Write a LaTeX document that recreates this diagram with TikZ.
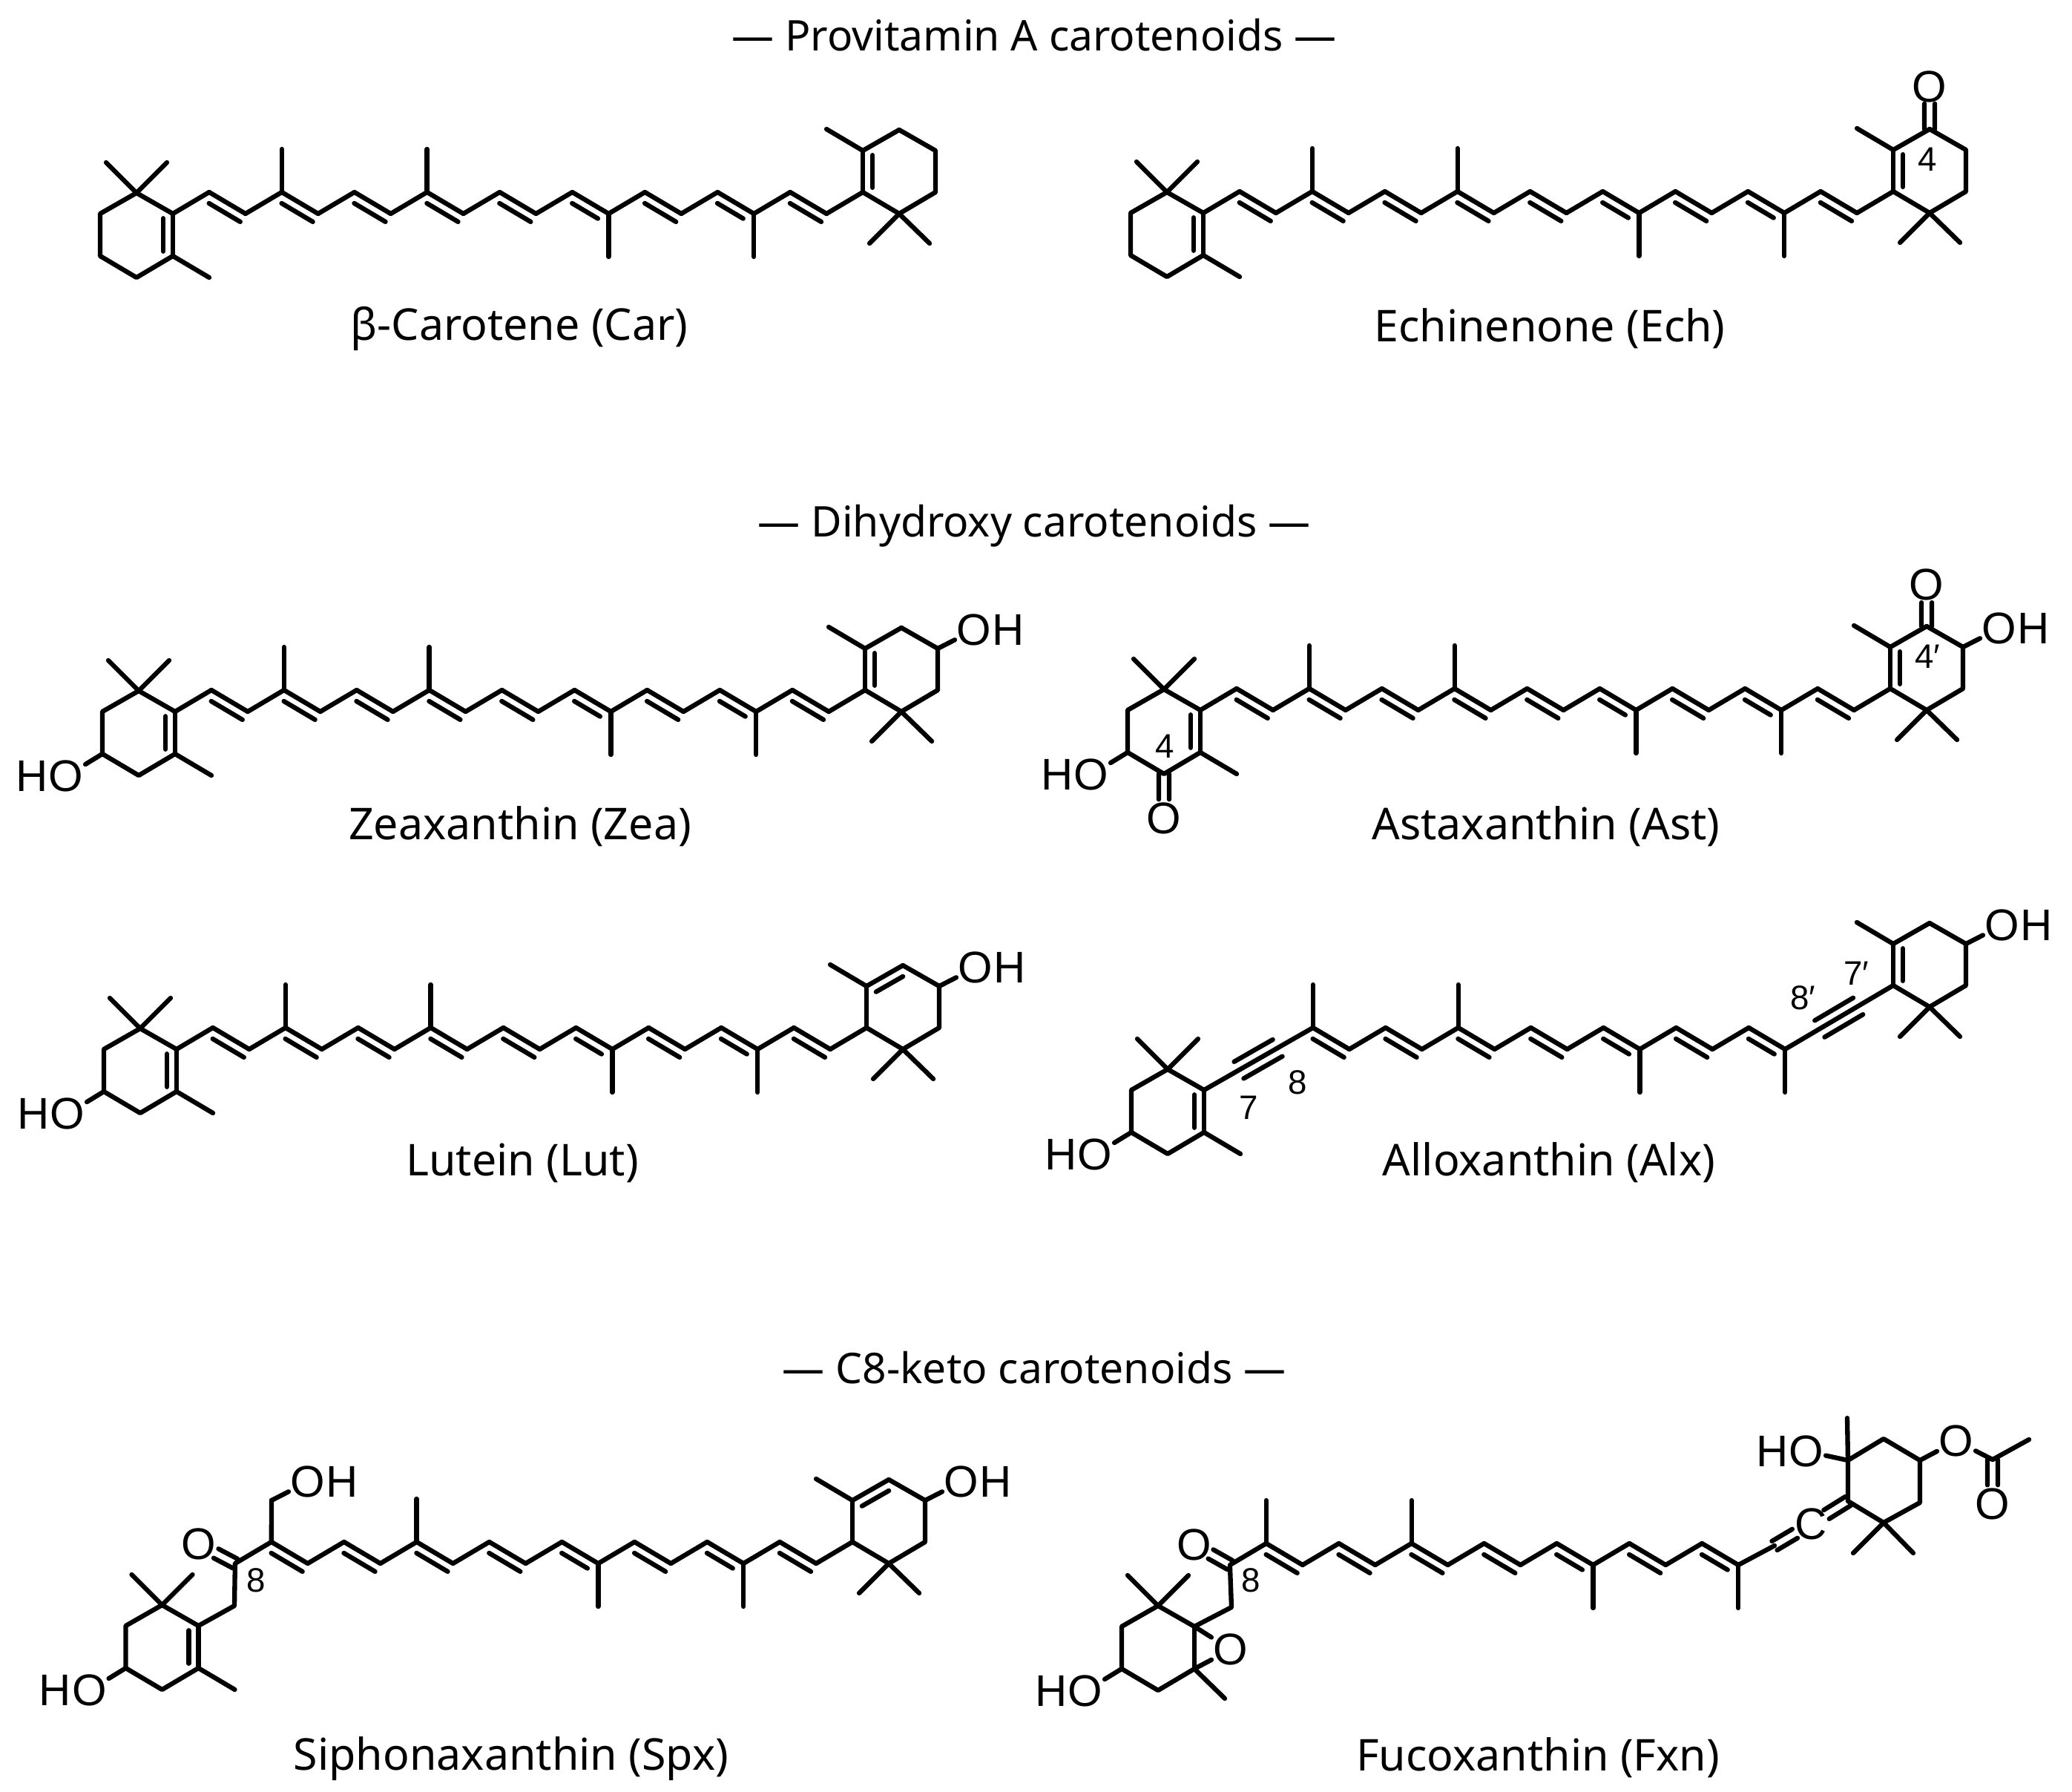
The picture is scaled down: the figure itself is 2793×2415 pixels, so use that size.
\documentclass[tikz,border=0pt]{standalone}
\usepackage{fontspec}
\setmainfont{Noto Sans}
\newfontfamily\atomfont{Liberation Sans}
\usetikzlibrary{calc,positioning}
\tikzset{
  % every bond of the skeletons
  bond/.style={line width=1.8pt,line cap=round,line join=round},
  atom/.style={font=\atomfont\fontsize{17}{18}\selectfont,inner sep=0.6pt},
  num/.style={font=\atomfont\fontsize{13}{14}\selectfont,inner sep=0pt},
  capt/.style={font=\fontsize{16.8}{20}\selectfont,inner sep=0pt},
  head/.style={font=\fontsize{16.2}{20}\selectfont,inner sep=0pt},
}
% double bond: a, b, and how far the inner line stays off each end
\newcommand{\dbl}[4]{
  \draw[bond] (#1)--(#2);
  \draw[bond] ($(#1)!#3!(#2)!.13cm!-90:(#2)$)--($(#2)!#4!(#1)!.13cm!90:(#1)$);
}
% double bond to a labelled atom
\newcommand{\dbs}[3]{
  \draw[bond] ($(#1)!.07cm!90:(#2)$)--($(#1)!#3!(#2)!.07cm!90:(#2)$);
  \draw[bond] ($(#1)!.07cm!-90:(#2)$)--($(#1)!#3!(#2)!.07cm!-90:(#2)$);
}
% triple bond
\newcommand{\tpl}[2]{
  \draw[bond] (#1)--(#2);
  \draw[bond] ($(#1)!.32!(#2)!.13cm!90:(#2)$)--($(#1)!.675!(#2)!.13cm!90:(#2)$);
  \draw[bond] ($(#1)!.32!(#2)!.13cm!-90:(#2)$)--($(#1)!.675!(#2)!.13cm!-90:(#2)$);
}
% chain c0...c19 from the origin #1, #2 lists the first carbons of its double bonds
\newcommand{\polyene}[2]{
  \foreach \k in {0,...,19}{
    \pgfmathsetmacro{\cy}{isodd(\k)?-29:0}
    \coordinate (c\k) at ($(#1)+(48.95*\k,\cy)$);
  }
  \foreach \ka in {#2}{
    \pgfmathtruncatemacro{\kb}{\ka+1}
    \pgfmathtruncatemacro{\kc}{\ka+2}
    \pgfmathsetmacro{\ke}{(\ka==11||\ka==15)?.16:.01}
    \dbl{c\ka}{c\kb}{.13}{\ke}
    \draw[bond] (c\kb)--(c\kc);
  }
}
\newcommand{\methyls}{
  \draw[bond] (c7)--++(0,-58);
  \draw[bond] (c12)--++(0,58);
  \draw[bond] (c16)--++(0,58);
}
% ring on the left end, lz is where the chain leaves it
\newcommand{\leftring}[1]{
  \begin{scope}[shift={(#1)}]
    \coordinate (lz) at (0,0);
    \coordinate (la) at (-49,-28);
    \coordinate (lb) at (-98,0);
    \coordinate (lc) at (-98,57);
    \coordinate (ld) at (-49,86);
    \coordinate (le) at (0,57);
    \draw[bond] (lz)--(la)--(lb)--(lc)--(ld)--(le);
    \draw[bond] (la)--(-90,-69);
    \draw[bond] (la)--(-8,-69);
  \end{scope}
}
% ring on the right end, rz is where the chain enters it
\newcommand{\rightring}[1]{
  \begin{scope}[shift={(#1)}]
    \coordinate (rz) at (0,0);
    \coordinate (ra) at (0,-56);
    \coordinate (rb) at (49,-84);
    \coordinate (rc) at (98,-56);
    \coordinate (rd) at (98,0);
    \coordinate (re) at (49,29);
    \draw[bond] (rb)--(rc)--(rd)--(re)--(rz);
    \draw[bond] (re)--(9,69);
    \draw[bond] (re)--(90,69);
    \draw[bond] (ra)--(-49,-85);
  \end{scope}
}
\newcommand{\hydroxyL}[2]{
  \node[atom] (#2o) at ($(#1)+(-49,30)$) {O};
  \node[atom,left=-1.2pt of #2o] (#2h) {H};
  \draw[bond] (#1)--(#2o);
}
\newcommand{\hydroxyR}[2]{
  \node[atom] (#2o) at ($(#1)+(49,-25)$) {O};
  \node[atom,right=-1.2pt of #2o] (#2h) {H};
  \draw[bond] (#1)--(#2o);
}
\begin{document}
\begin{tikzpicture}[x=0.01cm,y=-0.01cm]
\useasboundingbox (0,0) rectangle (2793,2415);

\node[head] (titleA) at (1394,47) {— Provitamin A carotenoids —};
\node[head] (titleB) at (1394,709) {— Dihydroxy carotenoids —};
\node[head] (titleC) at (1394,1843) {— C8-keto carotenoids —};

% Car
\polyene{233,288}{1,3,...,17}
\methyls
\draw[bond] (c3)--++(0,-58);
\draw[bond] (c0)--(c1);
\leftring{c0}
\dbl{lz}{le}{.11}{.11}
\draw[bond] (le)--++(49,29);
\rightring{c19}
\dbl{rz}{ra}{.11}{.11}
\draw[bond] (ra)--(rb);
\node[capt] (car) at (700,443) {β-Carotene (Car)};

% Ech
\polyene{1622,287}{1,3,...,17}
\methyls
\draw[bond] (c3)--++(0,-58);
\draw[bond] (c0)--(c1);
\leftring{c0}
\dbl{lz}{le}{.11}{.11}
\draw[bond] (le)--++(49,29);
\rightring{c19}
\dbl{rz}{ra}{.11}{.11}
\draw[bond] (ra)--(rb);
\node[atom] (echo) at ($(rb)+(0,-57)$) {O};
\dbs{rb}{echo}{.6}
\node[num] (echn) at (2598,215) {4};
\node[capt] (ech) at (2089,443) {Echinenone (Ech)};

% Zea
\polyene{236,959}{1,3,...,17}
\methyls
\draw[bond] (c3)--++(0,-58);
\draw[bond] (c0)--(c1);
\leftring{c0}
\dbl{lz}{le}{.11}{.11}
\draw[bond] (le)--++(49,29);
\hydroxyL{lc}{zeal}
\rightring{c19}
\dbl{rz}{ra}{.11}{.11}
\draw[bond] (ra)--(rb);
\hydroxyR{rc}{zear}
\node[capt] (zea) at (701,1114) {Zeaxanthin (Zea)};

% Ast
\polyene{1618,957}{1,3,...,17}
\methyls
\draw[bond] (c3)--++(0,-58);
\draw[bond] (c0)--(c1);
\leftring{c0}
\dbl{lz}{le}{.11}{.11}
\draw[bond] (le)--++(49,29);
\hydroxyL{lc}{astl}
\node[atom] (astol) at ($(ld)+(0,60)$) {O};
\dbs{ld}{astol}{.57}
\node[num] (astn) at (1570,1006) {4};
\rightring{c19}
\dbl{rz}{ra}{.11}{.11}
\draw[bond] (ra)--(rb);
\hydroxyR{rc}{astr}
\node[atom] (astor) at ($(rb)+(0,-56)$) {O};
\dbs{rb}{astor}{.57}
\node[num] (astnp) at (2598,885) {4′};
\node[capt] (ast) at (2084,1114) {Astaxanthin (Ast)};

% Lut
\polyene{238,1414}{1,3,...,17}
\methyls
\draw[bond] (c3)--++(0,-58);
\draw[bond] (c0)--(c1);
\leftring{c0}
\dbl{lz}{le}{.11}{.11}
\draw[bond] (le)--++(49,29);
\hydroxyL{lc}{lutl}
\rightring{c19}
\draw[bond] (rz)--(ra);
\dbl{ra}{rb}{.13}{.13}
\hydroxyR{rc}{lutr}
\node[capt] (lut) at (704,1567) {Lutein (Lut)};

% Alx
\polyene{1623,1414}{3,5,...,13}
\dbl{c15}{c16}{.13}{.16}
\methyls
\draw[bond] (c3)--++(0,-58);
\leftring{1623,1469}
\dbl{lz}{le}{.11}{.11}
\draw[bond] (le)--++(49,29);
\hydroxyL{lc}{alxl}
\tpl{lz}{c3}
\rightring{2552,1328}
\dbl{rz}{ra}{.11}{.11}
\draw[bond] (ra)--(rb);
\hydroxyR{rc}{alxr}
\tpl{c16}{rz}
\node[num] (alxa) at (1683,1493) {7};
\node[num] (alxb) at (1749,1459) {8};
\node[num] (alxc) at (2502,1312) {7′};
\node[num] (alxd) at (2430,1345) {8′};
\node[capt] (alx) at (2088,1567) {Alloxanthin (Alx)};

% Spx
\polyene{219,2107}{3,5,...,17}
\methyls
\leftring{267.5,2191}
\dbl{lz}{le}{.11}{.11}
\draw[bond] (le)--++(49,29);
\hydroxyL{lc}{spxl}
\draw[bond] (lz)--(316,2164)--(c2)--(c3);
\node[atom] (spxo) at (267.5,2081) {O};
\dbs{c2}{spxo}{.52}
\node[num] (spxn) at (345,2130) {8};
\coordinate (spxm) at (366,2022);
\draw[bond] (c3)--(spxm);
\hydroxyR{spxm}{spxc}
\rightring{c19}
\draw[bond] (rz)--(ra);
\dbl{ra}{rb}{.13}{.13}
\hydroxyR{rc}{spxr}
\node[capt] (spx) at (689,2370) {Siphonaxanthin (Spx)};

% Fxn
\polyene{1560,2109}{3,5,...,13}
\dbl{c15}{c16}{.13}{.16}
\methyls
\draw[bond] (c3)--++(0,-58);
\leftring{1610,2192}
\draw[bond] (lz)--(le);
\draw[bond] (le)--(1651,2289);
\hydroxyL{lc}{fxnl}
\node[atom] (fxne) at (1659,2223) {O};
\draw[bond] (lz)--(fxne);
\draw[bond] (le)--(fxne);
\draw[bond] (lz)--(1660,2166)--(c2)--(c3);
\node[atom] (fxno) at (1610,2082) {O};
\dbs{c2}{fxno}{.54}
\node[num] (fxnn) at (1686,2130) {8};
\coordinate (fa) at (2491,2023);
\coordinate (fb) at (2491,1968);
\coordinate (fc) at (2539,1939);
\coordinate (fd) at (2588,1968);
\coordinate (fe) at (2588,2025);
\coordinate (ff) at (2539,2052);
\coordinate (fg) at (2392,2083);
\node[atom] (fxnc) at (2441,2054) {C};
\draw[bond] (fa)--(fb)--(fc)--(fd)--(fe)--(ff)--(fa);
\draw[bond] (ff)--(2498,2093);
\draw[bond] (ff)--(2579,2093);
\draw[bond] (fb)--(2490,1911);
\draw[bond] (c16)--(fg);
\dbs{fg}{fxnc}{.56}
\dbs{fa}{fxnc}{.58}
\node[atom] (fxnp) at (2435,1956) {O};
\node[atom,left=-1.2pt of fxnp] (fxnq) {H};
\draw[bond] (fb)--(fxnp);
\node[atom] (fxnr) at (2637,1942) {O};
\coordinate (fh) at (2686,1967);
\draw[bond] (fd)--(fxnr);
\draw[bond] (fxnr)--(fh);
\draw[bond] (fh)--(2735,1940);
\node[atom] (fxns) at (2686,2027) {O};
\dbs{fh}{fxns}{.57}
\node[capt] (fxn) at (2073,2369) {Fucoxanthin (Fxn)};
\end{tikzpicture}
\end{document}
